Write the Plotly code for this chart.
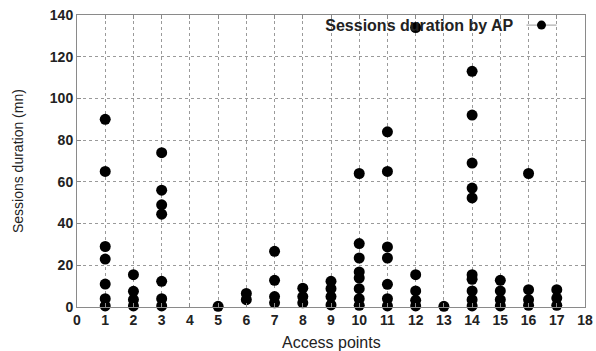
import plotly.graph_objects as go

# Sessions duration (minutes) read for each access point
ap_ids = list(range(1, 18))
durations = {
    1: [90, 65, 29, 23, 11, 4, 0.5],
    2: [15.5, 7.5, 3.5, 0.5],
    3: [74, 56, 49, 44.5, 12.3, 4, 0.5],
    4: [],
    5: [0.3],
    6: [6.5, 3.5],
    7: [26.7, 12.8, 5, 2],
    8: [9, 5, 2],
    9: [12.3, 8.8, 5, 1],
    10: [64, 30.4, 23.5, 16.8, 13.9, 8.8, 4, 0.8],
    11: [84, 65, 28.8, 23.5, 10.9, 4, 0.5],
    12: [134, 15.5, 7.7, 3.2, 0.5],
    13: [0.3],
    14: [113, 92, 69, 57, 52.3, 15.5, 13.3, 7.7, 3.5, 0.5],
    15: [12.8, 7.7, 3.5, 0.5],
    16: [64, 8.3, 3.5, 0.8],
    17: [8.3, 4.3, 0.8],
}
x_ticks = list(range(0, 19))
y_ticks = list(range(0, 141, 20))

xs, ys = [], []
for ap in ap_ids:
    for v in durations[ap]:
        xs.append(ap)
        ys.append(v)

fig = go.Figure()
fig.add_trace(go.Scatter(
    x=xs, y=ys, mode="markers",
    marker=dict(color="black", size=11),
    showlegend=False, cliponaxis=False,
))
fig.add_trace(go.Scatter(
    x=[None], y=[None], mode="lines+markers", name=" ",
    line=dict(color="#9a9a9a", width=1),
    marker=dict(color="black", size=9),
    showlegend=True,
))

font_main = "Liberation Sans, Arial, sans-serif"
fig.update_layout(
    width=596, height=351,
    margin=dict(l=77, r=11, t=15, b=44, autoexpand=False),
    paper_bgcolor="white", plot_bgcolor="white",
    font=dict(family=font_main, color="#222"),
    legend=dict(
        title=dict(text="<b>Sessions duration by AP</b>", side="left",
                   font=dict(size=16, family=font_main, color="#222")),
        x=0.971, y=0.962, xanchor="right", yanchor="middle",
        bgcolor="rgba(0,0,0,0)", borderwidth=0,
        itemwidth=30, tracegroupgap=0,
    ),
    xaxis=dict(
        range=[0, 18], tickvals=x_ticks, ticktext=[str(t) for t in x_ticks],
        showgrid=True, gridcolor="#9a9a9a", griddash="dot", gridwidth=1,
        showline=True, linecolor="#8a8a8a", linewidth=1, mirror="allticks",
        ticks="inside", ticklen=4, tickcolor="#8a8a8a",
        tickfont=dict(size=14, family=font_main, color="#222", weight="bold"),
        ticklabeloverflow="allow",
        automargin=False, zeroline=False,
    ),
    yaxis=dict(
        range=[0, 140], tickvals=y_ticks, ticktext=[str(t) for t in y_ticks],
        showgrid=True, gridcolor="#9a9a9a", griddash="dot", gridwidth=1,
        showline=True, linecolor="#8a8a8a", linewidth=1, mirror="allticks",
        ticks="inside", ticklen=4, tickcolor="#8a8a8a",
        tickfont=dict(size=14, family=font_main, color="#222", weight="bold"),
        ticklabeloverflow="allow",
        automargin=False, zeroline=False,
    ),
    annotations=[
        dict(text="Access points", xref="paper", yref="paper",
             x=0.5, y=-0.123, xanchor="center", yanchor="middle", showarrow=False,
             font=dict(size=16, family=font_main, color="#222")),
        dict(text="Sessions duration (mn)", xref="paper", yref="paper",
             x=-0.116, y=0.5, xanchor="center", yanchor="middle", showarrow=False,
             textangle=-90, font=dict(size=14, family=font_main, color="#222")),
    ],
)

# remove the default page margin so the figure sits at the window's corner
fig.write_html(
    "out.html",
    config={"displayModeBar": False},
    post_script="document.body.style.margin='0';document.body.style.overflow='hidden';",
)
